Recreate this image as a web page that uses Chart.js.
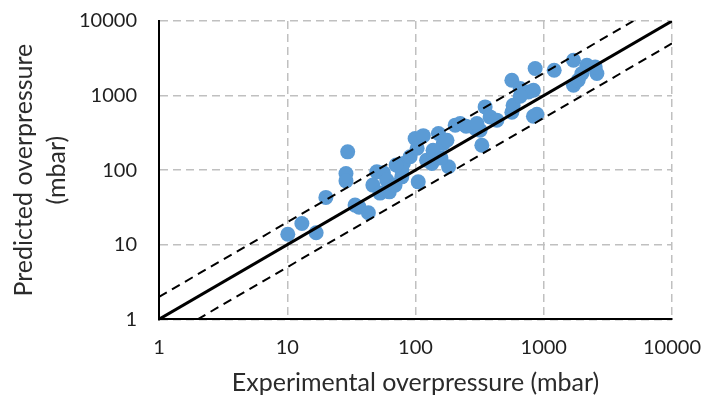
<!DOCTYPE html>
<html>
<head>
<meta charset="utf-8">
<script src="https://cdn.jsdelivr.net/npm/chart.js@4.4.1/dist/chart.umd.min.js"></script>
<style>
  html, body { margin: 0; padding: 0; background: #fff; }
  #wrap { width: 705px; height: 402px; position: relative; }
</style>
</head>
<body>
<div id="wrap"><canvas id="chart"></canvas></div>
<script>
// Experimental vs predicted overpressure (mbar)
const expX = [10.1, 13.0, 16.8, 20.0, 29.6, 28.7, 28.7, 33.8, 36.3, 42.9,
  49.9, 56.2, 46.5, 52.9, 62.5, 59.7, 78.2, 78.2, 80.5, 90.8,
  105, 99.3, 115, 122, 134, 138, 151, 165, 181, 204,
  223, 292, 319, 329, 349, 382, 431, 564, 577, 564,
  655, 760, 831, 831, 884, 857, 1206, 1706, 2169, 2596,
  2518, 1706, 1983, 248, 176, 158, 69.3, 301, 137, 1855,
  655, 103, 70.6];
const predY = [13.8, 19.3, 14.5, 43.1, 176, 90.3, 71.9, 34.0, 31.9, 26.8,
  94.9, 92.0, 63.0, 49.2, 51.2, 73.5, 81.3, 100, 123, 151,
  69.7, 266, 290, 136, 123, 167, 310, 228, 111, 401,
  422, 362, 343, 216, 705, 518, 468, 598, 743, 1607,
  1243, 1119, 1180, 529, 562, 2303, 2187, 2978, 2552, 1974,
  2420, 1376, 1974, 388, 252, 145, 63, 422, 185, 1607,
  980, 197, 117];

// reference lines: y = x, y = 2x, y = x/2
const parityX = [1, 10000];
const parityY = [1, 10000];
const upperX = [1, 5000];
const upperY = [2, 10000];
const lowerX = [2, 10000];
const lowerY = [1, 5000];

const tickValues = [1, 10, 100, 1000, 10000];

const toPoints = (xs, ys) => xs.map((x, i) => ({ x: x, y: ys[i] }));

const textColor = '#1f1f1f';
const titleColor = '#2b2b2b';
const gridColor = '#c0c0c0';

function powerTicks(scale) {
  scale.ticks = tickValues.map(v => ({ value: v }));
}

new Chart(document.getElementById('chart'), {
  type: 'scatter',
  data: {
    datasets: [
      {
        data: toPoints(parityX, parityY),
        showLine: true,
        borderColor: '#000',
        borderWidth: 3,
        pointRadius: 0
      },
      {
        data: toPoints(upperX, upperY),
        showLine: true,
        borderColor: '#000',
        borderWidth: 2,
        borderDash: [9, 6],
        pointRadius: 0
      },
      {
        data: toPoints(lowerX, lowerY),
        showLine: true,
        borderColor: '#000',
        borderWidth: 2,
        borderDash: [9, 6],
        pointRadius: 0
      },
      {
        data: toPoints(expX, predY),
        backgroundColor: '#5b9bd5',
        borderColor: '#5b9bd5',
        borderWidth: 0,
        pointRadius: 7.5
      }
    ]
  },
  options: {
    responsive: true,
    maintainAspectRatio: false,
    animation: false,
    layout: { padding: { left: 0, right: 33, top: 21, bottom: 0 } },
    plugins: {
      legend: { display: false },
      tooltip: { enabled: false }
    },
    scales: {
      x: {
        type: 'logarithmic',
        min: 1,
        max: 10000,
        afterBuildTicks: powerTicks,
        afterFit: (scale) => {
          scale.height = 82.7;
          scale.paddingLeft = 0;
          scale.paddingRight = 0;
        },
        grid: { color: gridColor, lineWidth: 1.5, drawTicks: false },
        border: { display: true, color: '#000', width: 2, dash: [8, 5] },
        ticks: {
          padding: 16,
          color: textColor,
          font: { family: 'Lato', size: 20 },
          maxRotation: 0,
          callback: (v) => String(v)
        },
        title: {
          display: true,
          text: 'Experimental overpressure (mbar)',
          color: titleColor,
          font: { family: 'Lato', size: 25, lineHeight: 1.2 },
          padding: { top: 0, bottom: 4 }
        }
      },
      y: {
        type: 'logarithmic',
        min: 1,
        max: 10000,
        afterBuildTicks: powerTicks,
        afterFit: (scale) => {
          scale.width = 159;
          scale.paddingTop = 0;
          scale.paddingBottom = 0;
        },
        grid: { color: gridColor, lineWidth: 1.5, drawTicks: false },
        border: { display: true, color: '#000', width: 2, dash: [8, 5] },
        ticks: {
          padding: 22,
          color: textColor,
          font: { family: 'Lato', size: 20 },
          callback: (v) => String(v)
        },
        title: {
          display: true,
          text: ['Predicted overpressure', '(mbar)'],
          color: titleColor,
          font: { family: 'Lato', size: 25, lineHeight: 1.32 },
          padding: { top: 7.5, bottom: 0 }
        }
      }
    }
  }
});
</script>
</body>
</html>
